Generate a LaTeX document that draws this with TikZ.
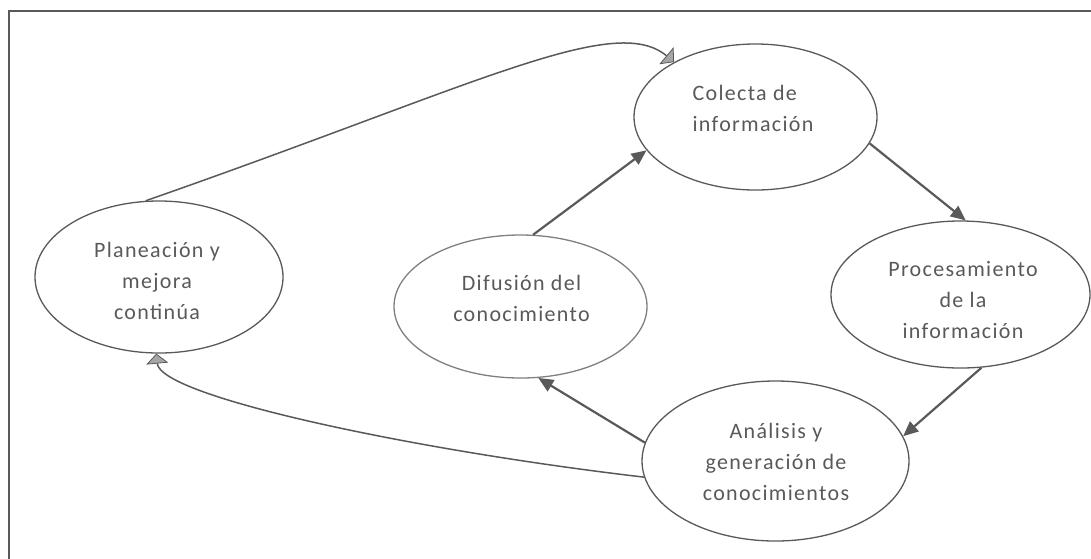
\documentclass[tikz,border=0pt]{standalone}
\usepackage{fontspec}
\setmainfont{Carlito}
\newfontfamily\lblfont[LetterSpace=6]{Carlito}
\usetikzlibrary{shapes.geometric,arrows.meta}
\definecolor{ink}{HTML}{595959}
\definecolor{lightink}{HTML}{7F7F7F}
\definecolor{tipfill}{HTML}{A6A6A6}
\tikzset{
  bub/.style={ellipse, draw=ink, line width=1.3pt, inner sep=0pt},
  txt/.style={text=ink, font=\lblfont\fontsize{22}{31}\selectfont, align=center, inner sep=0pt},
  darrow/.style={draw=ink, line width=2.2pt, -{Triangle[length=15pt,width=13pt]}},
  garrow/.style={draw=ink, line width=1.5pt, -{Triangle[length=10pt,width=22pt,fill=tipfill,line width=0.8pt]}},
  frame/.style={draw=ink, line width=2pt}
}
\begin{document}
\begin{tikzpicture}[x=1pt,y=-1pt]
\useasboundingbox (0,0) rectangle (1091,558);
\coordinate (fbl) at (8.5,560);
\coordinate (ftl) at (8.5,11);
\coordinate (ftr) at (1093,11);
\draw[frame] (fbl) -- (ftl) -- (ftr);

\node[bub, minimum width=243pt, minimum height=146pt] (col) at (755.5,117) {};
\node[bub, minimum width=248pt, minimum height=152pt] (plan) at (159,277) {};
\node[bub, draw=lightink, minimum width=253pt, minimum height=143pt] (dif) at (520.5,306.5) {};
\node[bub, minimum width=259pt, minimum height=147pt] (proc) at (960.5,294.5) {};
\node[bub, minimum width=267pt, minimum height=160pt] (ana) at (775.5,461) {};

\node[txt, align=left] (colt) at (753,108) {Colecta de\\información};
\node[txt] (plant) at (157,281) {Planeación y\\mejora\\continúa};
\node[txt] (dift) at (521.5,298) {Difusión del\\conocimiento};
\node[txt] (proct) at (963,300) {Procesamiento\\de la\\información};
\node[txt] (anat) at (776,462) {Análisis y\\generación de\\conocimientos};

\draw[darrow] (dif.80) -- (col.197);
\draw[darrow] (col.347.5) -- (proc.86.6);
\draw[darrow] (proc.286.8) -- (ana.11.7);
\draw[darrow] (ana.172.6) -- (dif.284);

\draw[garrow] (ana.187.3) .. controls +(-231,-27) and +(4,43) .. (plan.268);
\draw[garrow] (plan.100.3) .. controls +(332,-116) and +(-60,-50) .. (col.146.6);
\end{tikzpicture}
\end{document}
